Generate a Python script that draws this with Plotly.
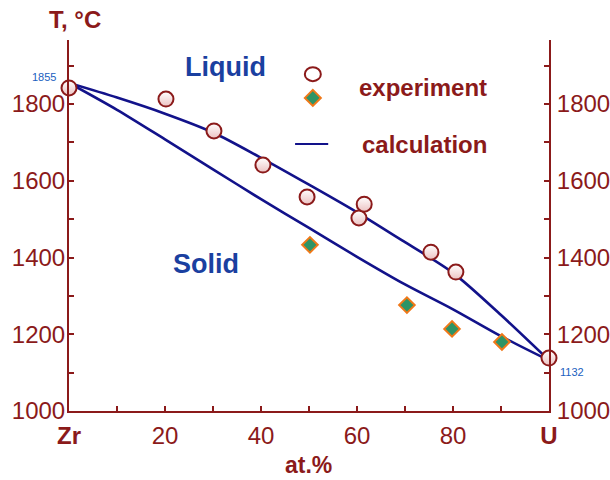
import plotly.graph_objects as go

# U-Zr phase diagram: calculated liquidus/solidus and measured points
comp_calc = [0, 10, 20, 30, 40, 50, 60, 70, 80, 90, 100]
liquidus = [1855, 1817, 1775, 1726, 1660, 1590, 1518, 1440, 1360, 1250, 1132]
solidus = [1855, 1785, 1708, 1630, 1552, 1477, 1402, 1330, 1265, 1195, 1132]

exp_liq_x = [0, 20.2, 30.2, 40.4, 49.6, 60.4, 61.5, 75.4, 80.6, 100]
exp_liq_t = [1842, 1813, 1730, 1641, 1558, 1503, 1539, 1414, 1362, 1138]

exp_sol_x = [50.2, 70.4, 79.8, 90.2]
exp_sol_t = [1433, 1276, 1214, 1180]

x_tick_vals = [0, 10, 20, 30, 40, 50, 60, 70, 80, 90, 100]
x_tick_text = ["<b>Zr</b>", "", "20", "", "40", "", "60", "", "80", "", "<b>U</b>"]
y_tick_vals = [1000, 1100, 1200, 1300, 1400, 1500, 1600, 1700, 1800, 1900]
y_tick_text = ["1000", "", "1200", "", "1400", "", "1600", "", "1800", ""]

AXIS = "#8b1a1a"
LINE = "#12128a"
BLUE = "#1a40a0"
FONT = "Liberation Sans, Arial, sans-serif"

fig = go.Figure()

for curve in (liquidus, solidus):
    fig.add_trace(go.Scatter(
        x=comp_calc, y=curve, mode="lines", line_shape="spline",
        line=dict(color=LINE, width=2.6, smoothing=0.8),
        showlegend=False, cliponaxis=False,
    ))

fig.add_trace(go.Scatter(
    x=exp_sol_x, y=exp_sol_t, mode="markers", showlegend=False, cliponaxis=False,
    marker=dict(symbol="diamond", size=12, color="#2e9466",
                line=dict(color="#f07818", width=2)),
))

fig.add_trace(go.Scatter(
    x=exp_liq_x, y=exp_liq_t, mode="markers", showlegend=False, cliponaxis=False,
    marker=dict(symbol="circle", size=15, color="white",
                gradient=dict(type="vertical", color="#ecc2c2"),
                line=dict(color=AXIS, width=2)),
))

# invisible trace so the right-hand temperature axis is drawn
fig.add_trace(go.Scatter(x=[0], y=[1000], yaxis="y2", mode="markers",
                         marker=dict(opacity=0), showlegend=False, hoverinfo="skip"))

tick_font = dict(family=FONT, size=24, color=AXIS)
common = dict(showgrid=False, zeroline=False, automargin=False,
              showline=True, linecolor=AXIS, linewidth=2,
              ticks="inside", ticklen=5, tickwidth=2, tickcolor=AXIS,
              tickmode="array", tickfont=tick_font)

fig.update_layout(
    width=610, height=480,
    margin=dict(l=69, r=61, t=40, b=69),
    paper_bgcolor="white", plot_bgcolor="white",
    xaxis=dict(range=[0, 100], tickvals=x_tick_vals, ticktext=x_tick_text,
               ticklabelstandoff=2, **common),
    yaxis=dict(range=[1000, 1967], tickvals=y_tick_vals, ticktext=y_tick_text,
               ticklabelstandoff=-3, **common),
    yaxis2=dict(overlaying="y", side="right", matches="y",
                tickvals=y_tick_vals, ticktext=y_tick_text,
                ticklabelstandoff=1, **common),
)

annotations = [
    dict(text="<b>T, °C</b>", xref="paper", yref="paper", x=0.0125, y=1.054,
         xanchor="center", yanchor="middle",
         font=dict(family=FONT, size=24, color=AXIS)),
    dict(text="<b>at.%</b>", xref="paper", yref="paper", x=0.498, y=-0.146,
         xanchor="center", yanchor="middle",
         font=dict(family=FONT, size=23, color=AXIS)),
    dict(text="<b>Liquid</b>", xref="x", yref="y", x=32.7, y=1896,
         xanchor="center", yanchor="middle",
         font=dict(family=FONT, size=27, color=BLUE)),
    dict(text="<b>Solid</b>", xref="x", yref="y", x=28.5, y=1383,
         xanchor="center", yanchor="middle",
         font=dict(family=FONT, size=27, color=BLUE)),
    dict(text=str(liquidus[0]), xref="x", yref="y", x=0, y=liquidus[0],
         xanchor="right", yanchor="bottom", xshift=-11, yshift=-2,
         font=dict(family=FONT, size=11, color="#2060c0")),
    dict(text=str(liquidus[-1]), xref="x", yref="y", x=100, y=liquidus[-1],
         xanchor="left", yanchor="middle", xshift=9, yshift=-12,
         font=dict(family=FONT, size=11, color="#2060c0")),
    dict(text="<b>experiment</b>", xref="paper", yref="paper", x=0.7375, y=0.873,
         xanchor="center", yanchor="middle",
         font=dict(family=FONT, size=24, color=AXIS)),
    dict(text="<b>calculation</b>", xref="paper", yref="paper", x=0.740, y=0.717,
         xanchor="center", yanchor="middle",
         font=dict(family=FONT, size=24, color=AXIS)),
]
for a in annotations:
    a["showarrow"] = False
fig.update_layout(annotations=annotations)

# legend keys
fig.add_shape(type="circle", xref="paper", yref="paper",
              xsizemode="pixel", ysizemode="pixel", xanchor=0.508, yanchor=0.908,
              x0=-8, x1=8, y0=-7, y1=7,
              line=dict(color=AXIS, width=2), fillcolor="white")
fig.add_shape(type="path", xref="paper", yref="paper",
              xsizemode="pixel", ysizemode="pixel", xanchor=0.508, yanchor=0.844,
              path="M 0 8 L 8 0 L 0 -8 L -8 0 Z",
              line=dict(color="#f07818", width=2), fillcolor="#2e9466")
fig.add_shape(type="line", xref="paper", yref="paper",
              x0=0.471, x1=0.540, y0=0.720, y1=0.720,
              line=dict(color=LINE, width=2))

fig.write_html("out.html")
